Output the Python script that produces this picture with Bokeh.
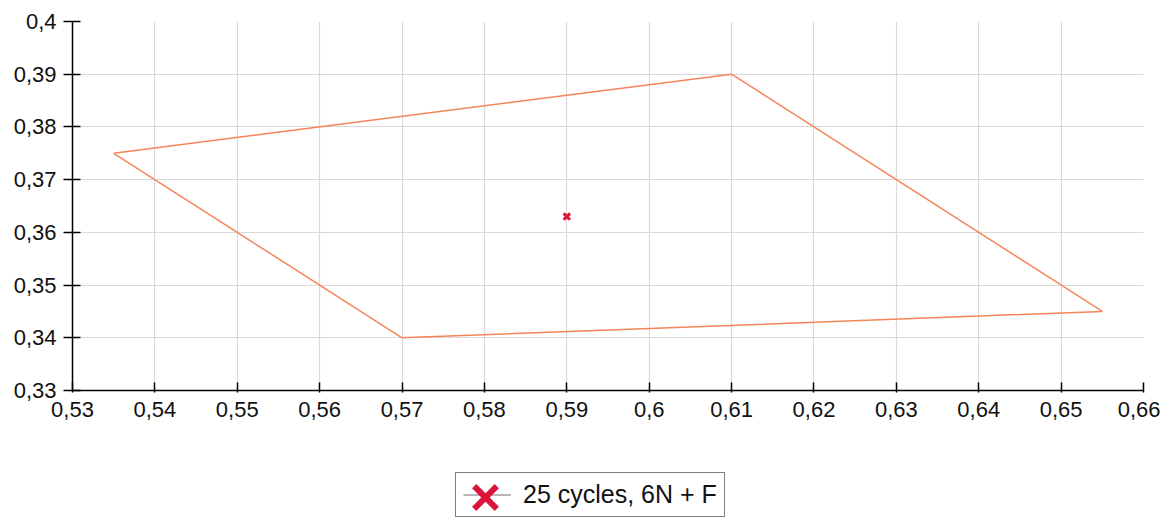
from bokeh.plotting import figure
from bokeh.layouts import column
from bokeh.models import Range1d, FixedTicker, Legend, LegendItem
from bokeh.embed import file_html
from bokeh.resources import INLINE

# Data
poly_x = [0.535, 0.61, 0.655, 0.57, 0.535]
poly_y = [0.375, 0.39, 0.345, 0.34, 0.375]
point_x = [0.59]
point_y = [0.363]
series_name = "25 cycles, 6N + F"
x_ticks = [0.53, 0.54, 0.55, 0.56, 0.57, 0.58, 0.59, 0.6, 0.61, 0.62, 0.63, 0.64, 0.65, 0.66]
x_labels = ["0,53", "0,54", "0,55", "0,56", "0,57", "0,58", "0,59", "0,6", "0,61", "0,62", "0,63", "0,64", "0,65", "0,66"]
y_ticks = [0.33, 0.34, 0.35, 0.36, 0.37, 0.38, 0.39, 0.4]
y_labels = ["0,33", "0,34", "0,35", "0,36", "0,37", "0,38", "0,39", "0,4"]

FONT = "Liberation Sans"
LINE_COLOR = "#F58559"
MARK_COLOR = "#DC143C"

p = figure(width=1160, height=427, output_backend="svg", toolbar_location=None,
           x_range=Range1d(0.53, 0.66), y_range=Range1d(0.33, 0.4),
           min_border_left=72, min_border_right=17, min_border_top=21, min_border_bottom=37)
p.outline_line_color = None
p.background_fill_color = "white"
p.border_fill_color = "white"

for ax, ticks, labels in ((p.xaxis, x_ticks, x_labels), (p.yaxis, y_ticks, y_labels)):
    ax.ticker = FixedTicker(ticks=ticks)
    ax.major_label_overrides = {t: l for t, l in zip(ticks, labels)}
    ax.minor_tick_line_color = None
    ax.axis_line_color = "black"
    ax.axis_line_width = 1.5
    ax.major_tick_line_color = "black"
    ax.major_tick_line_width = 1.5
    ax.major_label_text_font = FONT
    ax.major_label_text_font_size = "22px"
    ax.major_label_text_color = "#111111"

p.xaxis.major_tick_in = 8
p.xaxis.major_tick_out = 2
p.xaxis.major_label_standoff = 9
p.yaxis.major_tick_in = 8
p.yaxis.major_tick_out = 9
p.yaxis.major_label_standoff = 7
p.yaxis.major_label_text_align = "center"

p.xgrid.ticker = FixedTicker(ticks=x_ticks)
p.ygrid.ticker = FixedTicker(ticks=y_ticks)
p.grid.grid_line_color = "#dadada"
p.grid.grid_line_width = 1.2

p.line(poly_x, poly_y, line_color=LINE_COLOR, line_width=1.5)
p.scatter(point_x, point_y, marker="x", size=9, line_color=MARK_COLOR, line_width=3)

# Legend strip as a second figure
p2 = figure(width=1160, height=92, output_backend="svg", toolbar_location=None,
            x_range=Range1d(0, 1), y_range=Range1d(0, 1),
            min_border=0)
p2.axis.visible = False
p2.grid.visible = False
p2.outline_line_color = None
leg_line = p2.line(point_x, point_y, line_color="#a0a0a0", line_width=1.5, visible=False)
leg_mark = p2.scatter(point_x, point_y, marker="x", size=24, line_color=MARK_COLOR, line_width=6, visible=False)

legend_box = Legend(items=[LegendItem(label=series_name, renderers=[leg_line])],
                    location=(383, 2), orientation="horizontal",
                    border_line_color="black", border_line_width=1.2,
                    background_fill_color="white", background_fill_alpha=1,
                    label_text_font=FONT, label_text_font_size="25px", label_text_color="#111111",
                    glyph_width=48, glyph_height=27, label_standoff=12, padding=7, margin=0,
                    label_height=27)
p2.add_layout(legend_box, "center")

legend_mark = Legend(items=[LegendItem(label=" ", renderers=[leg_mark])],
                     location=(373, -18), orientation="horizontal",
                     border_line_color=None, background_fill_alpha=0,
                     label_text_font_size="1px",
                     glyph_width=80, glyph_height=80, label_standoff=0, padding=0, margin=0,
                     label_height=1, label_width=1)
p2.add_layout(legend_mark, "center")

layout = column(p, p2, spacing=0)
open("out.html", "w").write(file_html(layout, INLINE))
